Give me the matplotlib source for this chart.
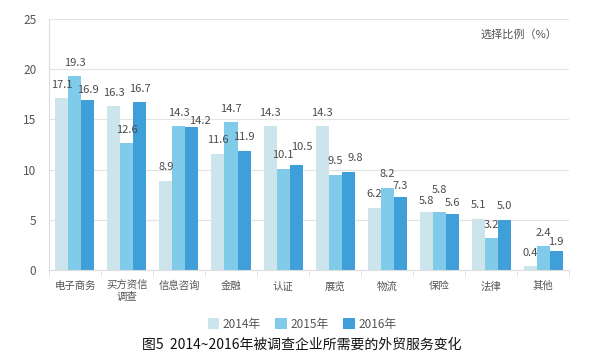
import numpy as np
import matplotlib
matplotlib.use('Agg')
import matplotlib.pyplot as plt

plt.rcParams['font.family'] = ['Noto Sans CJK SC', 'DejaVu Sans']

categories = ['电子商务', '买方资信\n调查', '信息咨询', '金融', '认证', '展览', '物流', '保险', '法律', '其他']
years = ['2014年', '2015年', '2016年']
v2014 = [17.1, 16.3, 8.9, 11.6, 14.3, 14.3, 6.2, 5.8, 5.1, 0.4]
v2015 = [19.3, 12.6, 14.3, 14.7, 10.1, 9.5, 8.2, 5.8, 3.2, 2.4]
v2016 = [16.9, 16.7, 14.2, 11.9, 10.5, 9.8, 7.3, 5.6, 5.0, 1.9]

# label nudges (points), staggered like the original to keep them apart
dy2014 = [0, 0, 0, 0, 0, 0, 0, -2, 0, 0]
dy2015 = [0, 0, 0, 0, 0, 0, 0, 6, 0, 0]
dy2016 = [-2.5, 0, -5, 0, 3, 0, -2, -2, 0, -3]
dx2016 = [0, 0, 6, 0, 4, 5, 0, 0, 0, 0]

colors = ['#cce4ec', '#7fcbe9', '#3f9fd9']
grey = '#555555'

fig = plt.figure(figsize=(6.04, 3.63), dpi=100)
ax = fig.add_axes([0.0811, 0.2562, 0.861, 0.6915])

x = np.arange(len(categories))
w = 0.25
series = [v2014, v2015, v2016]
dys = [dy2014, dy2015, dy2016]
dxs = [[0] * len(categories), [0] * len(categories), dx2016]
for i in range(3):
    bars = ax.bar(x + (i - 1) * w, series[i], w, color=colors[i], label=years[i], zorder=2)
    for b, v, dy, dx in zip(bars, series[i], dys[i], dxs[i]):
        ax.annotate('%.1f' % v, (b.get_x() + b.get_width() / 2, v),
                    xytext=(dx, 6 + dy), textcoords='offset points',
                    ha='center', va='bottom', fontsize=8, color='#4a4a4a', zorder=3)

ax.set_xlim(-0.5, len(categories) - 0.5)
ax.set_ylim(0, 25)
ax.set_yticks([0, 5, 10, 15, 20, 25])
ax.yaxis.grid(True, color='#e3e3e3', linewidth=0.8, zorder=0)
ax.tick_params(axis='y', length=0, labelsize=8.5, labelcolor=grey, pad=9)

ax.set_xticks(x)
ax.set_xticklabels(categories, fontsize=7.5, color=grey, linespacing=1.1)
ax.set_xticks(np.arange(len(categories) + 1) - 0.5, minor=True)
ax.tick_params(axis='x', which='major', length=0, pad=8)
ax.tick_params(axis='x', which='minor', length=4, color='#dddddd')

for s in ['top', 'right']:
    ax.spines[s].set_visible(False)
ax.spines['left'].set_color('#dddddd')
ax.spines['bottom'].set_color('#dddddd')

fig.text(0.922, 0.905, '选择比例（%）', ha='right', va='center', fontsize=8, color=grey)

leg = fig.legend(loc='center', bbox_to_anchor=(0.5, 0.107), ncol=3, frameon=False,
                 fontsize=8.5, handlelength=1.0, handleheight=1.0, handletextpad=0.3,
                 columnspacing=1.2)
for t in leg.get_texts():
    t.set_color(grey)

fig.text(0.5, 0.05, '图5  2014~2016年被调查企业所需要的外贸服务变化', ha='center', va='center',
         fontsize=10, color='#111111')

fig.savefig('out.png', dpi=100)
